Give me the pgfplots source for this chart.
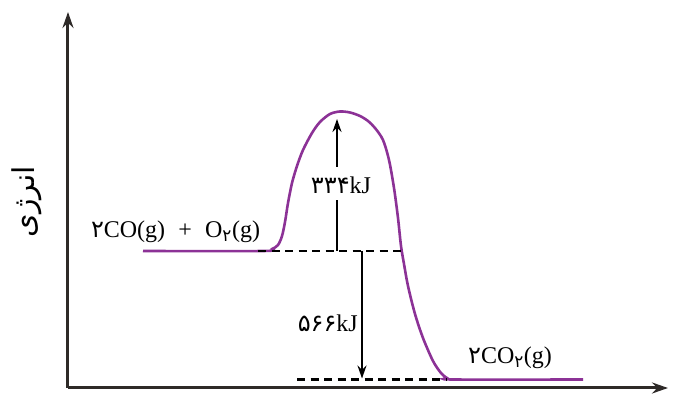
\documentclass[border=0pt]{standalone}
\usepackage{pgfplots}
\pgfplotsset{compat=1.18}
\usepackage{fontspec}
\setmainfont{Liberation Serif}
\newfontfamily\arabicfont[Script=Arabic]{DejaVu Sans}
\TeXXeTstate=1
\usetikzlibrary{arrows.meta}
\definecolor{curvecol}{HTML}{8C3296}
\definecolor{axiscol}{HTML}{2E2A28}
\newcommand{\fa}[1]{{\arabicfont #1}}
\begin{document}
\begin{tikzpicture}
\begin{axis}[
  scale only axis,
  width=600pt, height=376pt,
  xmin=68, xmax=668, ymin=0, ymax=376,
  axis lines=left,
  axis line style={draw=axiscol, line width=3pt, -{Stealth[length=16pt,width=11pt]}},
  xtick=\empty, ytick=\empty,
  clip=false,
  ylabel={\fontsize{30}{36}\selectfont\arabicfont\beginR انرژی\endR},
  ylabel style={at={(axis description cs:-0.068,0.495)}, anchor=center},
]
% energy curve
\addplot[curvecol, line width=2.6pt, smooth, tension=0.5] coordinates {
(143,137) (263,137) (272,139) (278,143) (282,152) (285,166) (288,185) (292,205)
(297,222) (303,238) (312,255) (320,266) (330,274) (340,276.5) (350,275.5)
(360,272) (368,267) (375,260) (383,248) (389,228) (394,200) (398,170) (401,142)
(404,124) (408,102) (415,74) (423,50) (433,27) (441,15) (447,10) (453,8.5) (583,8.5)
};
% dashed reference levels
\addplot[black, line width=2.6pt, dash pattern=on 8pt off 5.5pt] coordinates {(258,137) (402,137)};
\addplot[black, line width=2.6pt, dash pattern=on 8pt off 5.5pt] coordinates {(297,8.5) (447,8.5)};
% activation energy arrow
\addplot[black, line width=2pt] coordinates {(337,137) (337,188)};
\addplot[black, line width=2pt, -{Stealth[length=13pt,width=9pt]}] coordinates {(337,221) (337,269)};
% reaction enthalpy arrow
\addplot[black, line width=2pt, -{Stealth[length=13pt,width=9pt]}] coordinates {(362,137) (362,9.5)};
% labels
\begin{scope}[every node/.style={font=\fontsize{24}{28}\selectfont, inner sep=1pt}]
\node at (axis cs:175.5,156) {\fa{۲}CO(g)\hspace{0.55em}+\hspace{0.55em}O\textsubscript{\fa{۲}}(g)};
\node at (axis cs:510,30) {\fa{۲}CO\textsubscript{\fa{۲}}(g)};
\node at (axis cs:341,203) {\fa{۳۳۴}kJ};
\node[anchor=east] at (axis cs:359,65) {\fa{۵۶۶}kJ};
\end{scope}
\end{axis}
\path ([shift={(-68pt,-13pt)}]current axis.south west) rectangle ([shift={(6pt,12pt)}]current axis.north east);
\end{tikzpicture}
\end{document}
